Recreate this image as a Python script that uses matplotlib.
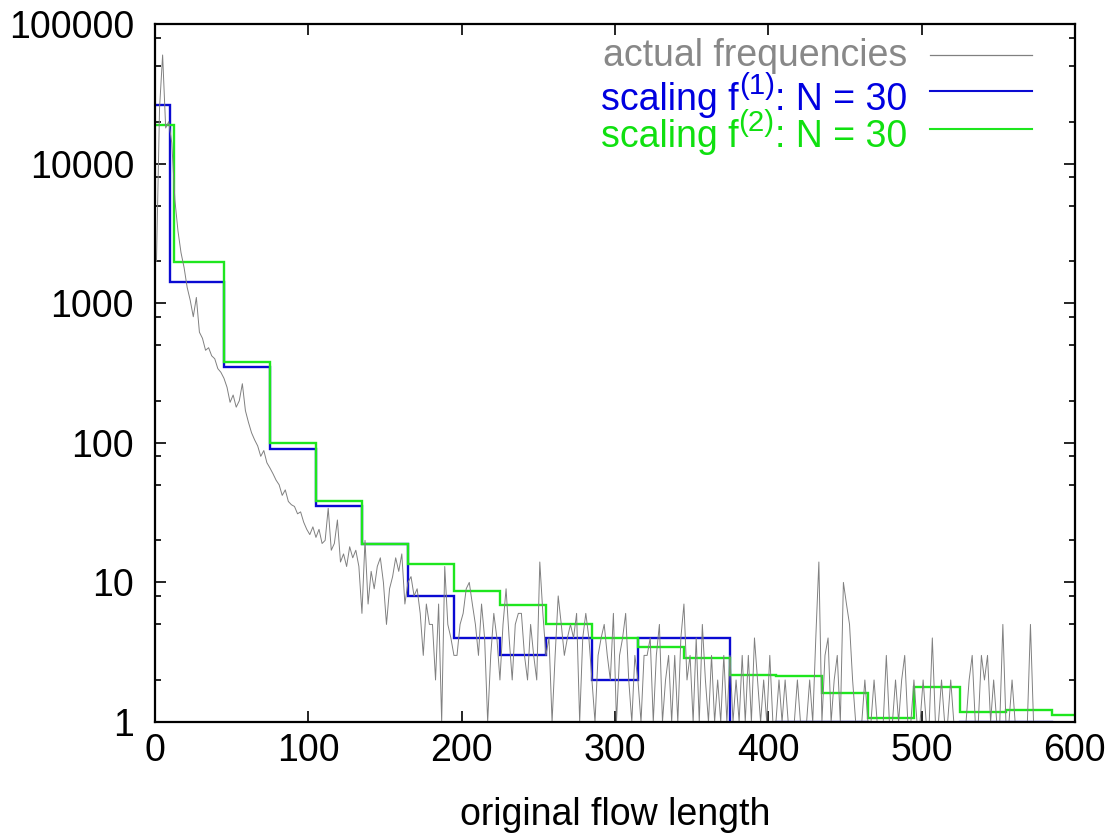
# Flow length frequency plot with two scaling approximations (N = 30)

import numpy as np
import matplotlib
matplotlib.use('Agg')
import matplotlib.pyplot as plt
from matplotlib import font_manager
from matplotlib.ticker import LogLocator, NullFormatter, FixedLocator

# gnuplot output looks like a tall, narrow Helvetica
try:
    font_manager.findfont('Liberation Sans Narrow', fallback_to_default=False)
    fam, fs = 'Liberation Sans Narrow', 32
except ValueError:
    fam, fs = 'Liberation Sans', 27
plt.rcParams['font.family'] = [fam, 'DejaVu Sans']

# colors
col_gray = '#808080'
col_blue = '#0a0ad2'
col_green = '#1ee61e'

# actual frequencies, read every 2 units of flow length (x = 1, 3, 5, ..., 599)
flow_len = np.arange(1, 600, 2)
freq = [
    2000, 25000, 60000, 18000, 20000, 14000, 5500, 3300, 2300, 1800, 1300, 1050, 800, 1100, 620,
    560, 460, 480, 420, 400, 340, 320, 290, 250, 195, 220, 180, 200, 265, 170,
    140, 118, 105, 95, 80, 88, 72, 66, 60, 54, 50, 42, 46, 38, 36,
    35, 31, 32, 27, 24, 22, 25, 21, 24, 19, 20, 34, 17, 19, 28,
    14, 16, 13, 18, 15, 17, 13, 6, 20, 7, 12, 9, 13, 15, 10,
    5, 9, 11, 15, 12, 16, 7, 10, 11, 8, 9, 6, 3, 7, 5,
    5, 2, 7, 1, 13, 5, 4, 3, 3, 5, 6, 9, 10, 7, 5,
    3, 7, 4, 1, 3, 6, 4, 2, 5, 9, 4, 2, 5, 6, 6,
    3, 2, 5, 3, 2, 14, 6, 3, 4, 1, 3, 8, 5, 3, 4,
    5, 4, 6, 1, 4, 6, 4, 2, 1, 3, 4, 5, 3, 2, 6,
    1, 3, 4, 6, 2, 1, 3, 2, 1, 3, 3, 4, 1, 3, 5,
    1, 2, 3, 1, 3, 1, 4, 7, 2, 3, 1, 4, 1, 5, 2,
    1, 3, 1, 2, 1, 3, 1, 3, 1, 2, 1, 3, 1, 3, 1,
    4, 2, 1, 2, 1, 3, 1, 1, 2, 1, 2, 1, 1, 1, 2,
    1, 1, 1, 2, 1, 4, 14, 1, 3, 4, 1, 2, 3, 1, 10,
    7, 5, 2, 1, 1, 1, 2, 1, 1, 2, 1, 1, 1, 3, 1,
    1, 2, 1, 2, 3, 1, 1, 2, 1, 1, 2, 1, 1, 4, 1,
    1, 2, 1, 1, 2, 1, 1, 1, 1, 1, 2, 3, 1, 1, 3,
    2, 3, 1, 2, 1, 1, 5, 1, 1, 2, 1, 1, 1, 1, 1,
    5, 1, 1, 1, 1, 1, 1, 1, 1, 1, 1, 1, 1, 1, 1,
]

# scaling f(1), N = 30 (bin edges and levels, 0.5 = empty bin)
f1_edges = [0, 10, 45, 75, 105, 135, 165, 195, 225, 255, 285, 315, 375, 405, 465, 525, 585, 600]
f1_levels = [26500, 1420, 349, 91, 35, 18.8, 8, 4, 3, 4, 2, 4, 0.5, 1, 0.5, 1, 0.5]

# scaling f(2), N = 30
f2_edges = [0, 12.5, 45, 75, 105, 135, 165, 195, 225, 255, 285, 315, 345, 375, 405, 435, 465, 495, 525, 555, 585, 600]
f2_levels = [19000, 1980, 381, 99, 38, 18.8, 13.5, 8.7, 6.85, 5.06, 4.0, 3.46, 2.86, 2.17, 2.12, 1.6, 1.06, 1.77, 1.17, 1.22, 1.12]


fig = plt.figure(figsize=(11.06, 8.34), dpi=100)
ax = fig.add_axes([0.1401, 0.1343, 0.8318, 0.8369])

ax.plot(flow_len, freq, color=col_gray, linewidth=0.7)
ax.stairs(f1_levels, f1_edges, color=col_blue, linewidth=1.7, baseline=None)
ax.stairs(f2_levels, f2_edges, color=col_green, linewidth=1.7, baseline=None)

ax.set_yscale('log')
ax.set_xlim(0, 600)
ax.set_ylim(1, 100000)

# ticks like gnuplot: inside, mirrored, minor at 2,5,8
ax.xaxis.set_major_locator(FixedLocator([0, 100, 200, 300, 400, 500, 600]))
ax.yaxis.set_major_locator(FixedLocator([1, 10, 100, 1000, 10000, 100000]))
ax.set_yticklabels(['1', '10', '100', '1000', '10000', '100000'])
ax.yaxis.set_minor_locator(LogLocator(base=10, subs=[2, 5, 8]))
ax.yaxis.set_minor_formatter(NullFormatter())
ax.tick_params(which='both', direction='in', top=True, right=True, width=1.2, labelsize=fs)
ax.tick_params(which='major', length=8)
ax.tick_params(which='minor', length=4)
ax.tick_params(axis='x', pad=8)
ax.tick_params(axis='y', pad=15)
for sp in ax.spines.values():
    sp.set_linewidth(1.6)
    sp.set_zorder(5)

ax.set_xlabel('original flow length', fontsize=fs, labelpad=20)

# key, top right like gnuplot; text pieces placed right to left
def px(x, y):
    return (x - 155) / 920, (722 - y) / 698

fig.canvas.draw()
renderer = fig.canvas.get_renderer()
inv = ax.transAxes.inverted()

def place_right(x_right, y, s, color, size, dy=0.0):
    t = ax.text(x_right, y + dy, s, transform=ax.transAxes, ha='right', va='baseline',
                color=color, fontsize=size)
    bb = t.get_window_extent(renderer)
    return inv.transform((bb.x0, bb.y0))[0]

key = [
    ('actual frequencies', None, col_gray, '#888888', 66, 55, 0.9),
    ('scaling f', '(1)', col_blue, '#0000e0', 110, 91, 1.5),
    ('scaling f', '(2)', col_green, '#10e010', 147, 129, 1.5),
]
for head, sup, lc, tc, base_y, line_y, lw in key:
    tx, ty = px(907, base_y)
    if sup is None:
        place_right(tx, ty, head, tc, fs)
    else:
        xl = place_right(tx, ty, ': N = 30', tc, fs)
        xl = place_right(xl, ty, sup, tc, fs * 0.78, dy=16 / 698)
        place_right(xl, ty, head, tc, fs)
    x0, ly = px(930, line_y)
    x1, _ = px(1032, line_y)
    ax.plot([x0, x1], [ly, ly], transform=ax.transAxes, color=lc, linewidth=lw, clip_on=False)

fig.savefig('out.png', dpi=100)
